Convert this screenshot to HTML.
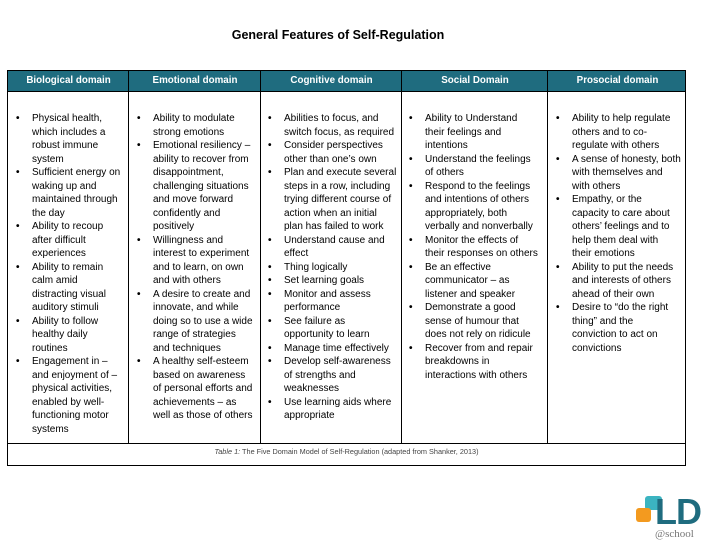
<!DOCTYPE html>
<html><head><meta charset="utf-8"><style>
body{margin:0;width:726px;height:549px;background:#fff;position:relative;overflow:hidden;font-family:"Liberation Sans",Arial,sans-serif;color:#000}
.t{position:absolute;left:0;width:676px;top:28px;text-align:center;font-weight:bold;font-size:12.5px;}
.tb{position:absolute;left:7px;top:70px;width:679px;height:396px;border:1px solid #000;box-sizing:border-box}
.hd{position:absolute;left:0;top:0;width:100%;height:20px;background:#1f6c7f;border-bottom:1px solid #000}
.h{position:absolute;top:0;height:20px;line-height:19px;color:#fff;font-weight:bold;font-size:9.8px;text-align:center}
.v{position:absolute;top:0;height:373px;width:1px;background:#000}
.hz{position:absolute;left:0;top:372px;width:100%;height:1px;background:#000}
.c{position:absolute;top:41px;font-size:10px;line-height:13.5px;white-space:nowrap}
.c div{position:relative}
.c div:before{content:"•";position:absolute;left:-16px;font-weight:bold}
.cap{position:absolute;top:376px;left:0;width:100%;text-align:center;font-size:7.3px;color:#444}
</style></head><body>
<div class="t">General Features of Self-Regulation</div>
<div class="tb">
<div class="hd"></div>
<div class="h" style="left:0;width:121px">Biological domain</div>
<div class="h" style="left:121px;width:132px">Emotional domain</div>
<div class="h" style="left:253px;width:141px">Cognitive domain</div>
<div class="h" style="left:394px;width:146px">Social Domain</div>
<div class="h" style="left:540px;width:139px">Prosocial domain</div>
<div class="v" style="left:120px"></div>
<div class="v" style="left:252px"></div>
<div class="v" style="left:393px"></div>
<div class="v" style="left:539px"></div>
<div class="hz"></div>
<div class="c" style="left:24px">
<div>Physical health,<br>which includes a<br>robust immune<br>system</div>
<div>Sufficient energy on<br>waking up and<br>maintained through<br>the day</div>
<div>Ability to recoup<br>after difficult<br>experiences</div>
<div>Ability to remain<br>calm amid<br>distracting visual<br>auditory stimuli</div>
<div>Ability to follow<br>healthy daily<br>routines</div>
<div>Engagement in –<br>and enjoyment of –<br>physical activities,<br>enabled by well-<br>functioning motor<br>systems</div>
</div>
<div class="c" style="left:145px">
<div>Ability to modulate<br>strong emotions</div>
<div>Emotional resiliency –<br>ability to recover from<br>disappointment,<br>challenging situations<br>and move forward<br>confidently and<br>positively</div>
<div>Willingness and<br>interest to experiment<br>and to learn, on own<br>and with others</div>
<div>A desire to create and<br>innovate, and while<br>doing so to use a wide<br>range of strategies<br>and techniques</div>
<div>A healthy self-esteem<br>based on awareness<br>of personal efforts and<br>achievements – as<br>well as those of others</div>
</div>
<div class="c" style="left:276px">
<div>Abilities to focus, and<br>switch focus, as required</div>
<div>Consider perspectives<br>other than one’s own</div>
<div>Plan and execute several<br>steps in a row, including<br>trying different course of<br>action when an initial<br>plan has failed to work</div>
<div>Understand cause and<br>effect</div>
<div>Thing logically</div>
<div>Set learning goals</div>
<div>Monitor and assess<br>performance</div>
<div>See failure as<br>opportunity to learn</div>
<div>Manage time effectively</div>
<div>Develop self-awareness<br>of strengths and<br>weaknesses</div>
<div>Use learning aids where<br>appropriate</div>
</div>
<div class="c" style="left:417px">
<div>Ability to Understand<br>their feelings and<br>intentions</div>
<div>Understand the feelings<br>of others</div>
<div>Respond to the feelings<br>and intentions of others<br>appropriately, both<br>verbally and nonverbally</div>
<div>Monitor the effects of<br>their responses on others</div>
<div>Be an effective<br>communicator – as<br>listener and speaker</div>
<div>Demonstrate a good<br>sense of humour that<br>does not rely on ridicule</div>
<div>Recover from and repair<br>breakdowns in<br>interactions with others</div>
</div>
<div class="c" style="left:564px">
<div>Ability to help regulate<br>others and to co-<br>regulate with others</div>
<div>A sense of honesty, both<br>with themselves and<br>with others</div>
<div>Empathy, or the<br>capacity to care about<br>others’ feelings and to<br>help them deal with<br>their emotions</div>
<div>Ability to put the needs<br>and interests of others<br>ahead of their own</div>
<div>Desire to “do the right<br>thing” and the<br>conviction to act on<br>convictions</div>
</div>
<div class="cap"><i>Table 1:</i> The Five Domain Model of Self-Regulation (adapted from Shanker, 2013)</div>
</div>
<div style="position:absolute;left:645px;top:496px;width:17px;height:14px;background:#3bb4c1;border-radius:3px"></div>
<div style="position:absolute;left:636px;top:508px;width:15px;height:14px;background:#f39a1f;border-radius:3px"></div>
<div style="position:absolute;left:655px;top:494px;font-size:36px;font-weight:bold;color:#1f6c7f;line-height:36px;letter-spacing:-1px">LD</div>
<div style="position:absolute;left:655px;top:528px;font-size:11px;color:#777;font-family:'Liberation Serif',serif">@school</div>
</body></html>
